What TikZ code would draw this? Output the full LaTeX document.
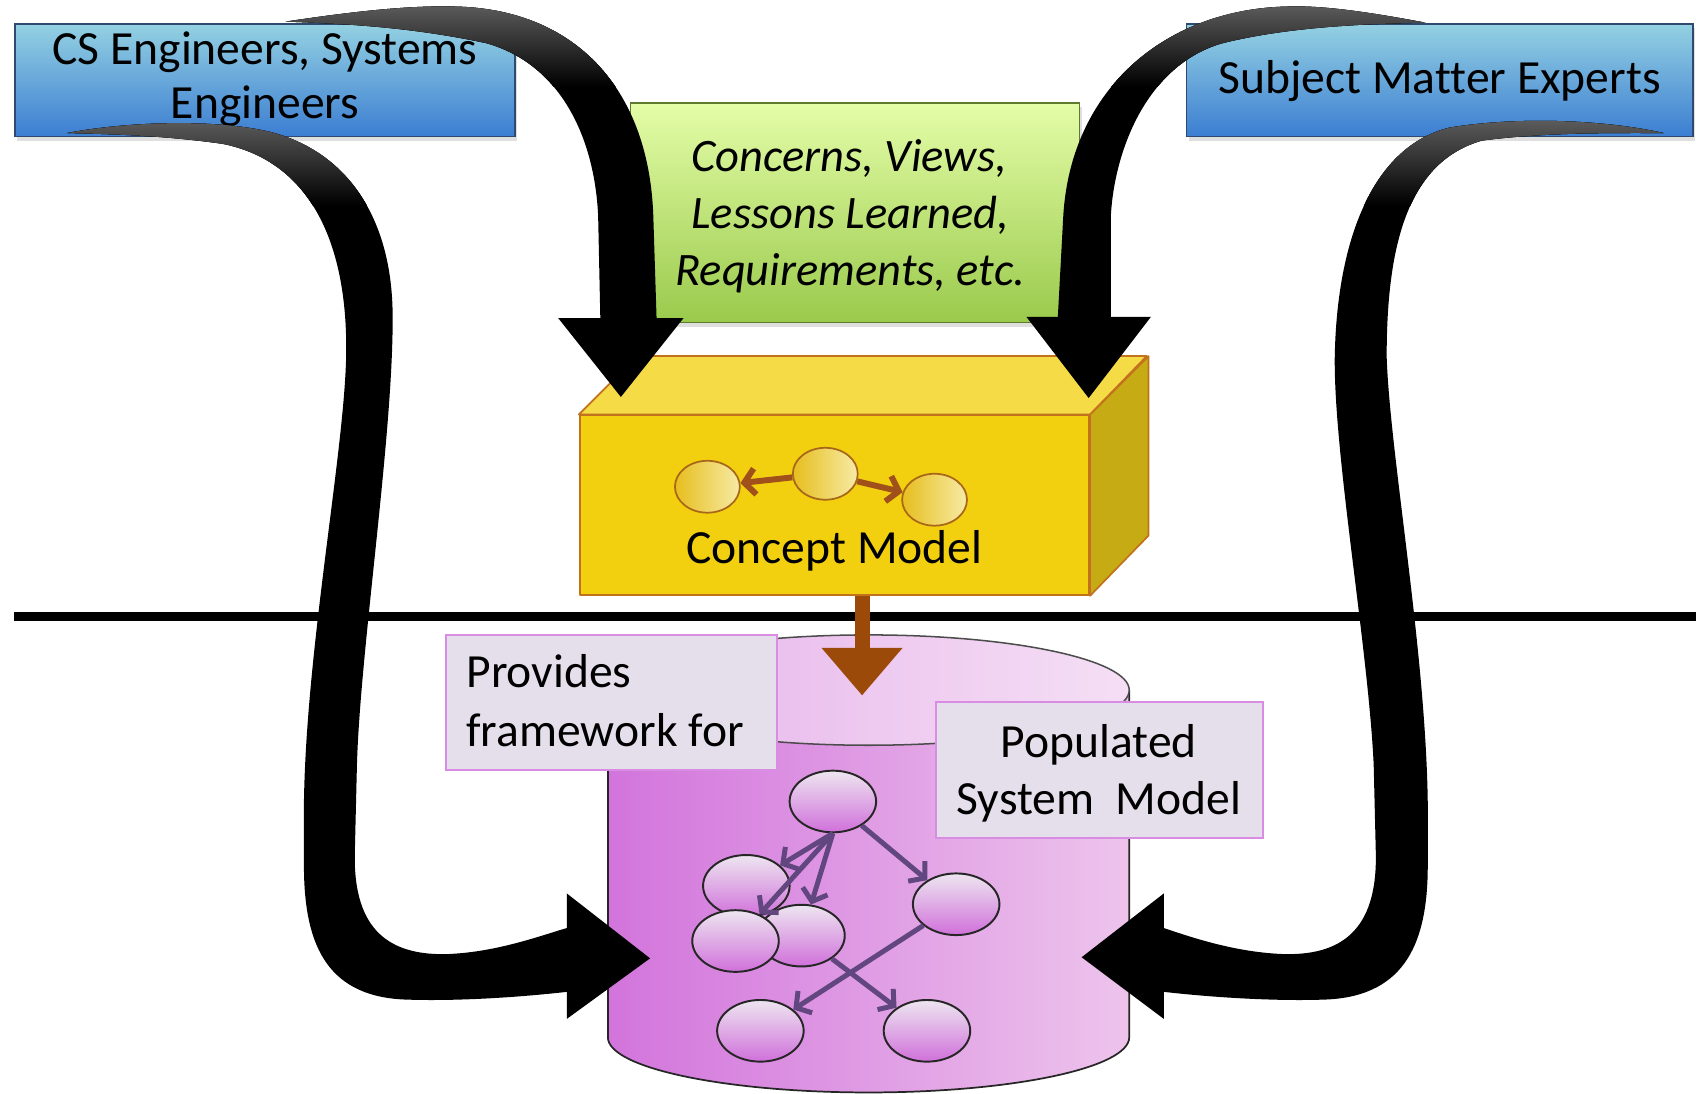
\documentclass[tikz,border=0pt]{standalone}
\usepackage{fontspec}
\setmainfont{Carlito}[Ligatures={NoCommon,NoRare}]
\usetikzlibrary{arrows.meta,shapes.geometric,shadows}

\definecolor{bluetopc}{HTML}{94D1E2}
\definecolor{bluebotc}{HTML}{3C7ED2}
\definecolor{blueedgec}{HTML}{2E4A6E}
\definecolor{greentopc}{HTML}{E4FDA8}
\definecolor{greenbotc}{HTML}{9ACA4C}
\definecolor{greenedgec}{HTML}{5E7A2E}
\definecolor{cmfrontc}{HTML}{F2D00F}
\definecolor{cmtopc}{HTML}{F5DB45}
\definecolor{cmsidec}{HTML}{C7AB14}
\definecolor{cmedgec}{HTML}{C2721C}
\definecolor{cmlinkc}{HTML}{A0501A}
\definecolor{cmleftc}{HTML}{E6BE1E}
\definecolor{cmrightc}{HTML}{F7EBA5}
\definecolor{cmnodec}{HTML}{A8661A}
\definecolor{cylleftc}{HTML}{D274DC}
\definecolor{cylrightc}{HTML}{EDC4EC}
\definecolor{lidleftc}{HTML}{E6B2EA}
\definecolor{lidrightc}{HTML}{F5DFF5}
\definecolor{notefillc}{HTML}{E5DFEC}
\definecolor{noteedgec}{HTML}{D88CE2}
\definecolor{gtopc}{HTML}{EDE6F0}
\definecolor{gbotc}{HTML}{D070DA}
\definecolor{glinkc}{HTML}{62467F}
\definecolor{brownc}{HTML}{9B4A0A}

% outlines of the four broad contribution arrows
\newcommand{\ribbonA}{(264,20) .. controls (330,10) and (380,5) .. (420,6)
  .. controls (530,8) and (600,80) .. (604,200) -- (607,294) -- (632,294) -- (t1)
  -- (516,294) -- (555,294) -- (553,200) .. controls (550,130) and (520,60) .. (450,40)
  .. controls (380,25) and (320,22) .. (264,20) -- cycle}
\newcommand{\ribbonB}{(1318,21) .. controls (1260,10) and (1220,5) .. (1191,6)
  .. controls (1080,8) and (990,80) .. (983,200) -- (978,293) -- (949,293) -- (t3)
  -- (1064,293) -- (1027,293) -- (1027,200) .. controls (1030,140) and (1060,60) .. (1130,40)
  .. controls (1190,25) and (1260,22) .. (1318,21) -- cycle}
\newcommand{\ribbonC}{(62,123) .. controls (120,112) and (200,110) .. (250,122)
  .. controls (320,140) and (362,200) .. (363,290)
  .. controls (364,400) and (333,600) .. (330,707) -- (328,790)
  .. controls (327,860) and (360,884) .. (415,882)
  .. controls (460,880) and (500,865) .. (524,858) -- (524,826) -- (t2) -- (524,942) -- (524,917)
  .. controls (480,922) and (420,926) .. (372,924)
  .. controls (300,920) and (281,870) .. (281,800) -- (281,742)
  .. controls (283,600) and (318,420) .. (320,330)
  .. controls (322,230) and (290,150) .. (206,133)
  .. controls (150,125) and (100,124) .. (62,123) -- cycle}
\newcommand{\ribbonD}{(1538,123) .. controls (1480,110) and (1400,108) .. (1340,118)
  .. controls (1270,135) and (1236,220) .. (1234,330)
  .. controls (1233,420) and (1265,600) .. (1270,707) -- (1272,790)
  .. controls (1273,860) and (1240,884) .. (1185,882)
  .. controls (1140,880) and (1100,866) .. (1076,858) -- (1076,826) -- (t4) -- (1076,942) -- (1076,917)
  .. controls (1120,922) and (1180,926) .. (1228,924)
  .. controls (1300,920) and (1320,870) .. (1320,800) -- (1320,742)
  .. controls (1318,600) and (1285,420) .. (1282,330)
  .. controls (1282,230) and (1300,150) .. (1370,130)
  .. controls (1430,122) and (1500,123) .. (1538,123) -- cycle}

\begin{document}
\begin{tikzpicture}[x=1pt, y=-1pt,
  softshadow/.style={drop shadow={opacity=0.25, shadow xshift=2pt, shadow yshift=-4pt}},
  bluebox/.style={draw=blueedgec, line width=1.4pt, top color=bluetopc, bottom color=bluebotc,
    inner sep=0pt, minimum height=104pt, softshadow},
  greenbox/.style={draw=greenedgec, line width=1.4pt, top color=greentopc, bottom color=greenbotc,
    inner sep=0pt, softshadow},
  notebox/.style={draw=noteedgec, line width=1.8pt, fill=notefillc, inner sep=0pt},
  txt/.style={inner sep=0pt, font=\fontsize{44}{52}\selectfont},
  itxt/.style={inner sep=0pt, font=\fontsize{43}{52}\selectfont\itshape},
  cmface/.style={draw=cmedgec, line width=1.6pt, line join=round},
  cmell/.style={ellipse, draw=cmnodec, line width=1.6pt, left color=cmleftc, right color=cmrightc,
    minimum width=60pt, minimum height=48pt, inner sep=0pt},
  cmlink/.style={draw=cmlinkc, line width=5.5pt, -{Straight Barb[length=10pt, width=24pt]}},
  gnode/.style={ellipse, draw=black!85, line width=1.8pt, top color=gtopc, bottom color=gbotc,
    minimum width=80pt, minimum height=57pt, inner sep=0pt},
  glink/.style={draw=glinkc, line width=4.6pt, -{Straight Barb[length=10pt, width=24pt]}},
  bigarrow/.style={fill=black},
  sheen/.style={top color=black!62, bottom color=black},
  feed/.style={draw=brownc, line width=14pt, -{Triangle[length=44pt, width=72pt]}}
]
\useasboundingbox (0,0) rectangle (1568,1011);

% divider between the conceptual and the populated level
\draw[line width=8pt] (13,570) -- (1568,570);

% stakeholder boxes
\node[bluebox, minimum width=462pt] (cs) at (245,74) {};
\node[txt, anchor=base] (cs1) at (245,60) {CS Engineers, Systems};
\node[txt, anchor=base] (cs2) at (245,110) {Engineers};
\node[bluebox, minimum width=468pt] (sme) at (1331,74) {};
\node[txt, anchor=base] (smet) at (1331,86) {Subject Matter Experts};

% inputs box
\node[greenbox, minimum width=415pt, minimum height=203pt] (cv) at (790.5,196.5) {};
\node[itxt, anchor=base] (cv1) at (785,158.5) {Concerns, Views,};
\node[itxt, anchor=base] (cv2) at (786,211) {Lessons Learned,};
\node[itxt, anchor=base] (cv3) at (786,263.5) {Requirements, etc.};

% concept model block
\node[cmface, fill=cmfrontc, minimum width=471pt, minimum height=166pt, inner sep=0pt] (cm) at (771.5,467) {};
\draw[cmface, fill=cmtopc] (cm.north west) -- ++(54,-54) -- ++(471,0) -- (cm.north east) -- cycle;
\draw[cmface, fill=cmsidec] (cm.north east) -- ++(54,-54) -- ++(0,166) -- (cm.south east) -- cycle;
\node[cmell] (c1) at (654,450) {};
\node[cmell] (c2) at (763,438) {};
\node[cmell] (c3) at (864,462) {};
\draw[cmlink] (c2) -- (c1);
\draw[cmlink] (c2) -- (c3);
\node[txt, anchor=base] (cmt) at (771.5,521) {Concept Model};

% system model cylinder
\fill[left color=cylleftc, right color=cylrightc]
  (562,638) -- (562,959) arc[start angle=180, end angle=0, x radius=241, y radius=51] -- (1044,638) -- cycle;
\draw[line width=1.6pt, black!85]
  (562,638) -- (562,959) arc[start angle=180, end angle=0, x radius=241, y radius=51] -- (1044,638);
\draw[line width=1.4pt, black!70, left color=lidleftc, right color=lidrightc]
  (803,638) ellipse [x radius=241, y radius=51];

% concept model feeds the system model
\coordinate (cyltop) at (797,643);
\draw[feed] ([xshift=25.5pt]cm.south) -- (cyltop);

% annotations
\node[notebox, minimum width=306pt, minimum height=125pt] (pf) at (565,649.5) {};
\node[txt, anchor=base west] (pf1) at (431,636) {Provides};
\node[txt, anchor=base west] (pf2) at (431,690) {framework for};
\node[notebox, minimum width=303pt, minimum height=126pt] (psm) at (1016.5,712) {};
\node[txt, anchor=base] (psm1) at (1016,700) {Populated};
\node[txt, anchor=base] (psm2) at (1016,753) {System~~Model};

% populated model graph
\node[gnode] (ga) at (690,819) {};
\node[gnode] (gc) at (741,865) {};
\node[gnode] (gb) at (680,870) {};
\node[gnode] (g0) at (770,741) {};
\node[gnode] (gd) at (884,836) {};
\node[gnode] (ge) at (703,953) {};
\node[gnode] (gf) at (857,953) {};
\draw[glink] (g0.south) -- (ga);
\draw[glink] (g0.south) -- (gb);
\draw[glink] (g0.south) -- (gc);
\draw[glink] (g0) -- (gd);
\draw[glink] (gd) -- (ge);
\draw[glink] (gc) -- (gf);

% broad contribution arrows
\coordinate (t1) at (574,367);
\coordinate (t2) at (601,886);
\coordinate (t3) at (1006.5,368);
\coordinate (t4) at (1000,885);

\fill[bigarrow] \ribbonA;
\fill[bigarrow] \ribbonB;
\fill[bigarrow] \ribbonC;
\fill[bigarrow] \ribbonD;

% grey sheen on the thin starting ribbons
\begin{scope}
  \clip \ribbonA;
  \fill[sheen] (240,0) rectangle (660,80);
\end{scope}
\begin{scope}
  \clip \ribbonB;
  \fill[sheen] (940,0) rectangle (1340,80);
\end{scope}
\begin{scope}
  \clip \ribbonC;
  \fill[sheen] (40,106) rectangle (380,190);
\end{scope}
\begin{scope}
  \clip \ribbonD;
  \fill[sheen] (1220,106) rectangle (1560,190);
\end{scope}
\end{tikzpicture}
\end{document}
